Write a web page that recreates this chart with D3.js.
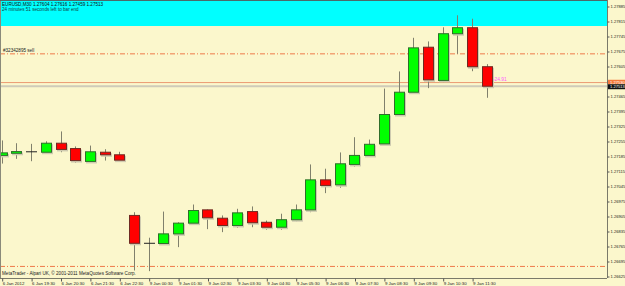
<!DOCTYPE html>
<html>
<head>
<meta charset="utf-8">
<script src="https://cdn.jsdelivr.net/npm/d3@7"></script>
<style>
body { margin:0; background:#fbf7cc; }
svg { display:block; font-family:"Liberation Sans", Arial, sans-serif; }
</style>
</head>
<body>
<svg id="drawing_region"></svg>
<script>
// EURUSD M30 bars, 6 Jan 2012 18:30 .. 9 Jan 2012 12:00
const times = ["6 Jan 18:30","6 Jan 19:00","6 Jan 19:30","6 Jan 20:00","6 Jan 20:30","6 Jan 21:00","6 Jan 21:30","6 Jan 22:00","6 Jan 22:30",
    "9 Jan 00:00","9 Jan 00:30","9 Jan 01:00","9 Jan 01:30","9 Jan 02:00","9 Jan 02:30","9 Jan 03:00","9 Jan 03:30","9 Jan 04:00",
    "9 Jan 04:30","9 Jan 05:00","9 Jan 05:30","9 Jan 06:00","9 Jan 06:30","9 Jan 07:00","9 Jan 07:30","9 Jan 08:00","9 Jan 08:30",
    "9 Jan 09:00","9 Jan 09:30","9 Jan 10:00","9 Jan 10:30","9 Jan 11:00","9 Jan 11:30","9 Jan 12:00"];
const open  = [1.27190,1.27200,1.27207,1.27205,1.27247,1.27222,1.27162,1.27205,1.27193,1.26910,1.26780,1.26779,1.26824,1.26874,1.26936,1.26897,1.26863,
    1.26928,1.26878,1.26855,1.26890,1.26936,1.27076,1.27053,1.27148,1.27190,1.27244,1.27381,1.27485,1.27695,1.27540,1.27758,1.27786,1.27604];
const high  = [1.27260,1.27247,1.27244,1.27256,1.27302,1.27232,1.27236,1.27219,1.27207,1.26925,1.26806,1.26928,1.26878,1.26961,1.26938,1.26910,1.26941,
    1.26952,1.26886,1.26918,1.26961,1.27148,1.27128,1.27204,1.27275,1.27264,1.27502,1.27582,1.27739,1.27722,1.27788,1.27844,1.27828,1.27616];
const low   = [1.27152,1.27174,1.27163,1.27203,1.27205,1.27156,1.27160,1.27166,1.27166,1.26653,1.26650,1.26778,1.26762,1.26872,1.26846,1.26832,1.26852,
    1.26855,1.26843,1.26843,1.26883,1.26925,1.27014,1.27039,1.27138,1.27190,1.27242,1.27378,1.27483,1.27504,1.27532,1.27664,1.27583,1.27459];
const close = [1.27202,1.27208,1.27207,1.27247,1.27218,1.27166,1.27207,1.27193,1.27168,1.26780,1.26780,1.26824,1.26874,1.26933,1.26899,1.26863,1.26922,
    1.26876,1.26855,1.26890,1.26936,1.27076,1.27050,1.27151,1.27190,1.27242,1.27381,1.27485,1.27692,1.27543,1.27758,1.27786,1.27604,1.27513];

const priceTicks = [1.27885,1.27815,1.27745,1.27675,1.27605,1.27535,1.27465,1.27395,1.27325,1.27255,
    1.27185,1.27115,1.27045,1.26975,1.26905,1.26835,1.26765,1.26695,1.26625];
const timeTicks = ["6 Jan 18:30","6 Jan 19:30","6 Jan 20:30","6 Jan 21:30","6 Jan 22:30","9 Jan 00:30","9 Jan 01:30","9 Jan 02:30",
    "9 Jan 03:30","9 Jan 04:30","9 Jan 05:30","9 Jan 06:30","9 Jan 07:30","9 Jan 08:30","9 Jan 09:30","9 Jan 10:30","9 Jan 11:30"];

// levels on the chart
const slPrice = 1.27664;
const tpPrice = 1.26672;
const linePrice = 1.27530;
const bidPrice = 1.27513;
const boxBottomPrice = 1.27794;

const header = "EURUSD,M30  1.27604 1.27616 1.27459 1.27513";
const timer = "24 minutes 51 seconds left to bar end";
const orderLabel = "#32342895 sell";
const profitLabel = "-24.91";
const copyright = "MetaTrader - Alpari UK, \u00a9 2001-2011 MetaQuotes Software Corp.";

const data = times.map((t, i) => ({ t: t, o: open[i], h: high[i], l: low[i], c: close[i] }));

const config = {
    parent: '#drawing_region',
    width: 625,
    height: 286,
    plot: {left: 0, right: 607, top: 0, bottom: 278}
};

const svg = d3.select(config.parent)
    .attr('width', config.width)
    .attr('height', config.height);

svg.append('rect')
    .attr('width', config.width).attr('height', config.height)
    .attr('fill', '#fbf7cc');

const xscale = d3.scalePoint()
    .domain(times)
    .range([1.7, 1.7 + 14.7 * (times.length - 1)]);

const yscale = d3.scaleLinear()
    .domain([1.26625, 1.27885])
    .range([276.5, 6.5]);

svg.append('defs').append('clipPath').attr('id', 'plotclip')
    .append('rect')
    .attr('x', config.plot.left).attr('y', config.plot.top)
    .attr('width', config.plot.right - config.plot.left)
    .attr('height', config.plot.bottom - config.plot.top);

const chart = svg.append('g').attr('clip-path', 'url(#plotclip)');

// cyan rectangle object
chart.append('rect')
    .attr('x', 1).attr('y', 1)
    .attr('width', config.plot.right - 1)
    .attr('height', yscale(boxBottomPrice) - 1)
    .attr('fill', '#00ffff');

// order lines
const dashdot = '5,2,1,2';
chart.append('line')
    .attr('x1', 0).attr('x2', config.plot.right)
    .attr('y1', yscale(slPrice)).attr('y2', yscale(slPrice))
    .attr('stroke', '#ee7a4a').attr('stroke-dasharray', dashdot);
chart.append('line')
    .attr('x1', 0).attr('x2', config.plot.right)
    .attr('y1', yscale(tpPrice)).attr('y2', yscale(tpPrice))
    .attr('stroke', '#ee7a4a').attr('stroke-dasharray', dashdot);
chart.append('line')
    .attr('x1', 0).attr('x2', config.plot.right)
    .attr('y1', yscale(bidPrice)).attr('y2', yscale(bidPrice))
    .attr('stroke', '#cfcbb8').attr('stroke-width', 2);
chart.append('line')
    .attr('x1', 0).attr('x2', config.plot.right)
    .attr('y1', yscale(linePrice)).attr('y2', yscale(linePrice))
    .attr('stroke', '#eb9a72').attr('stroke-width', 1);

// candles
const bw = 10;
const candles = chart.selectAll('g.candle')
    .data(data)
    .enter()
    .append('g');

candles.append('line')
    .attr('x1', d => Math.round(xscale(d.t)) + 0.5)
    .attr('x2', d => Math.round(xscale(d.t)) + 0.5)
    .attr('y1', d => yscale(d.h))
    .attr('y2', d => yscale(d.l))
    .attr('stroke', '#80806c')
    .attr('stroke-width', 1);

// soft shadow behind bodies
candles.filter(d => d.o !== d.c)
    .append('rect')
    .attr('x', d => Math.round(xscale(d.t)) - bw / 2 + 1)
    .attr('y', d => yscale(Math.max(d.o, d.c)) + 1)
    .attr('width', bw + 1)
    .attr('height', d => Math.max(1, Math.abs(yscale(d.o) - yscale(d.c))) + 1)
    .attr('fill', '#cfcbb0');

candles.filter(d => d.o !== d.c)
    .append('rect')
    .attr('x', d => Math.round(xscale(d.t)) - bw / 2 + 0.5)
    .attr('y', d => yscale(Math.max(d.o, d.c)))
    .attr('width', bw)
    .attr('height', d => Math.max(1, Math.abs(yscale(d.o) - yscale(d.c))))
    .attr('fill', d => d.c > d.o ? '#00ff00' : '#ff0000')
    .attr('stroke', d => d.c > d.o ? '#2f6f2a' : '#6f2a22')
    .attr('stroke-width', 1);

candles.filter(d => d.o === d.c)
    .append('line')
    .attr('x1', d => Math.round(xscale(d.t)) - bw / 2)
    .attr('x2', d => Math.round(xscale(d.t)) + bw / 2 + 1)
    .attr('y1', d => yscale(d.o))
    .attr('y2', d => yscale(d.o))
    .attr('stroke', '#222')
    .attr('stroke-width', 1);

// texts inside chart
chart.append('text')
    .attr('x', 2).attr('y', 6)
    .attr('font-size', '4.6px').attr('fill', '#111')
    .text(header);
chart.append('text')
    .attr('x', 2).attr('y', 11)
    .attr('font-size', '4.6px').attr('fill', '#114444')
    .text(timer);
chart.append('text')
    .attr('x', 3).attr('y', yscale(slPrice) - 2)
    .attr('font-size', '4.6px').attr('fill', '#222')
    .text(orderLabel);
chart.append('text')
    .attr('x', 493).attr('y', 80.5)
    .attr('font-size', '4.8px').attr('fill', '#ff55ff')
    .text(profitLabel);
chart.append('text')
    .attr('x', 2).attr('y', 275)
    .attr('font-size', '4.6px').attr('fill', '#222')
    .text(copyright);

// frame
svg.append('line')
    .attr('x1', 0.5).attr('x2', 0.5).attr('y1', 0).attr('y2', config.plot.bottom)
    .attr('stroke', '#8a8a7a');
svg.append('line')
    .attr('x1', 0).attr('x2', config.plot.right).attr('y1', 0.5).attr('y2', 0.5)
    .attr('stroke', '#4a6a6a');
svg.append('line')
    .attr('x1', config.plot.right + 0.5).attr('x2', config.plot.right + 0.5)
    .attr('y1', 0).attr('y2', config.plot.bottom)
    .attr('stroke', '#7a7a6a');
svg.append('line')
    .attr('x1', 0).attr('x2', config.plot.right).attr('y1', config.plot.bottom + 0.5).attr('y2', config.plot.bottom + 0.5)
    .attr('stroke', '#7a7a6a');

// price axis
const yaxis = d3.axisRight(yscale)
    .tickValues(priceTicks)
    .tickFormat(d3.format('.5f'))
    .tickSize(2)
    .tickPadding(1);

const yaxis_group = svg.append('g')
    .attr('transform', `translate(${config.plot.right + 0.5}, 0)`)
    .call(yaxis);
yaxis_group.select('.domain').remove();
yaxis_group.selectAll('line').attr('stroke', '#555');
yaxis_group.selectAll('text')
    .attr('font-size', '4.1px').attr('font-family', '"Liberation Sans", Arial, sans-serif')
    .attr('fill', '#222');

// price labels on axis
const lineTag = svg.append('g');
lineTag.append('rect')
    .attr('x', config.plot.right + 1).attr('y', yscale(linePrice) - 2.8)
    .attr('width', 18).attr('height', 4.4)
    .attr('fill', '#f47a3c');
lineTag.append('text')
    .attr('x', config.plot.right + 3).attr('y', yscale(linePrice) + 1)
    .attr('font-size', '4.1px').attr('fill', '#fff')
    .text(d3.format('.5f')(linePrice));

const bidTag = svg.append('g');
bidTag.append('rect')
    .attr('x', config.plot.right + 1).attr('y', yscale(bidPrice) - 2)
    .attr('width', 18).attr('height', 5)
    .attr('fill', '#111');
bidTag.append('text')
    .attr('x', config.plot.right + 3).attr('y', yscale(bidPrice) + 1.8)
    .attr('font-size', '4.1px').attr('fill', '#fff')
    .text(d3.format('.5f')(bidPrice));

// time axis
const xaxis = d3.axisBottom(xscale)
    .tickValues(timeTicks)
    .tickFormat(d => d === times[0] ? '6 Jan 2012' : d)
    .tickSize(3)
    .tickPadding(0);

const xaxis_group = svg.append('g')
    .attr('transform', `translate(0.5, ${config.plot.bottom + 0.5})`)
    .call(xaxis);
xaxis_group.select('.domain').remove();
xaxis_group.selectAll('line').attr('stroke', '#555');
xaxis_group.selectAll('text')
    .attr('font-size', '4.4px').attr('font-family', '"Liberation Sans", Arial, sans-serif')
    .attr('fill', '#222')
    .attr('text-anchor', 'start')
    .attr('dy', '0.7em');
</script>
</body>
</html>
